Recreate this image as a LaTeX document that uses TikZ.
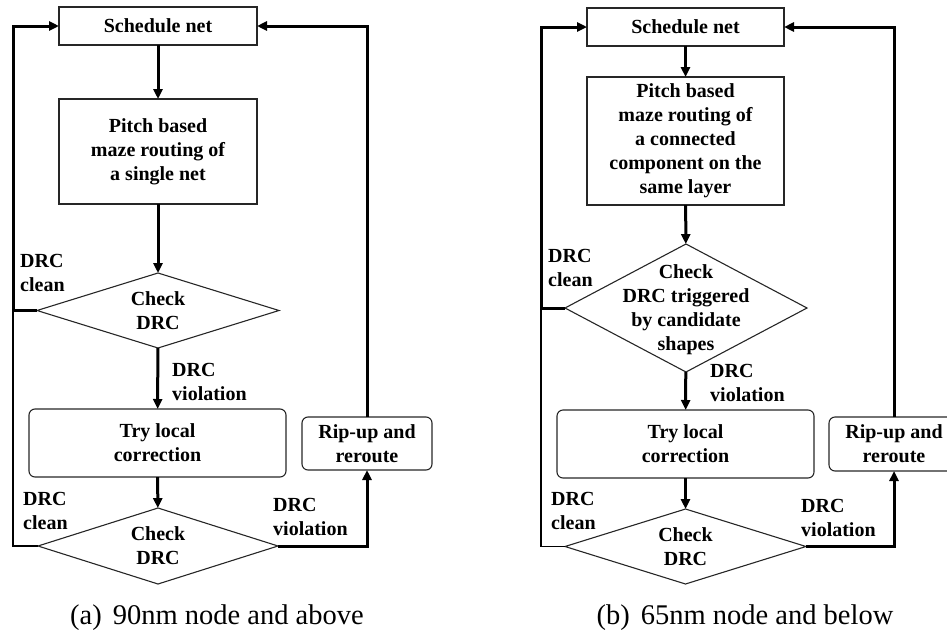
\documentclass[tikz,border=0pt]{standalone}
\usepackage{fontspec}
\setmainfont{Liberation Serif}
\usetikzlibrary{shapes.geometric,arrows.meta}
\begin{document}
\begin{tikzpicture}[x=1pt,y=-1pt,
  txt/.style={font=\fontsize{20}{24}\selectfont\bfseries, align=center, inner sep=0pt},
  box/.style={txt, draw=black!85, line width=1.1pt, rectangle, outer sep=0pt},
  rbox/.style={box, rounded corners=6pt},
  dia/.style={draw=black!85, line width=1.1pt, diamond, inner sep=0pt, outer sep=0pt},
  lab/.style={font=\fontsize{20}{24}\selectfont\bfseries, align=left, anchor=west, inner sep=0pt},
  captxt/.style={font=\fontsize{28.5}{33}\selectfont, inner sep=0pt},
  flow/.style={line width=3pt, -{Triangle[length=10pt,width=9pt]}},
  weak/.style={line width=1.3pt}]
\useasboundingbox (0,0) rectangle (947,632);

% ---------- (a) ----------
\node[box, minimum width=198pt, minimum height=38pt] (as) at (158,26) {Schedule net};
\node[box, minimum width=198pt, minimum height=105pt] (ap) at (158,151.5) {Pitch based\\maze routing of\\a single net};
\node[dia, minimum width=242pt, minimum height=75pt] (ad1) at (158,310.5) {};
\node[txt] (ad1t) at (ad1) {Check\\DRC};
\node[rbox, minimum width=257pt, minimum height=68pt] (at) at (157.5,443) {Try local\\correction};
\node[rbox, minimum width=130pt, minimum height=53pt] (ar) at (367,443.5) {Rip-up and\\reroute};
\node[dia, minimum width=240pt, minimum height=76pt] (ad2) at (158,546) {};
\node[txt] (ad2t) at (ad2) {Check\\DRC};
\coordinate (aL) at (13,0);

\draw[flow] (as) -- (ap);
\draw[flow] (ap) -- (ad1);
\draw[flow] (ad1) -- (at);
\draw[flow] (at) -- (ad2);
\draw[flow] (ad1.west) -- (ad1.west -| aL) |- (as.west);
\draw[weak] (ad2.west) -- (ad2.west -| aL) -- (ad1.west -| aL);
\draw[flow] (ad2.east) -| (ar.south);
\draw[flow] (ar.north) |- (as.east);

\node[lab] (al1) at (20,272.5) {DRC\\clean};
\node[lab] (al2) at (172,381.5) {DRC\\violation};
\node[lab] (al3) at (23,510.5) {DRC\\clean};
\node[lab] (al4) at (273,516.5) {DRC\\violation};
\node[captxt] (acap) at (217,618) {(a)\hspace{11pt}90nm node and above};

% ---------- (b) ----------
\node[box, minimum width=197pt, minimum height=38pt] (bs) at (685.5,27) {Schedule net};
\node[box, minimum width=197pt, minimum height=128pt] (bp) at (685.5,141) {Pitch based\\maze routing of\\a connected\\component on the\\same layer};
\node[dia, minimum width=242pt, minimum height=128pt] (bd1) at (686,308) {};
\node[txt] (bd1t) at (686,309.5) {Check\\DRC triggered\\by candidate\\shapes};
\node[rbox, minimum width=257pt, minimum height=68pt] (bt) at (685.5,444) {Try local\\correction};
\node[rbox, minimum width=130pt, minimum height=54pt] (br) at (894,444) {Rip-up and\\reroute};
\node[dia, minimum width=241pt, minimum height=75pt] (bd2) at (685.5,546.5) {};
\node[txt] (bd2t) at (bd2) {Check\\DRC};
\coordinate (bL) at (541,0);

\draw[flow] (bs) -- (bp);
\draw[flow] (bp) -- (bd1);
\draw[flow] (bd1) -- (bt);
\draw[flow] (bt) -- (bd2);
\draw[flow] (bd1.west) -- (bd1.west -| bL) |- (bs.west);
\draw[weak] (bd2.west) -- (bd2.west -| bL) -- (bd1.west -| bL);
\draw[flow] (bd2.east) -| (br.south);
\draw[flow] (br.north) |- (bs.east);

\node[lab] (bl1) at (548,268) {DRC\\clean};
\node[lab] (bl2) at (710,382.5) {DRC\\violation};
\node[lab] (bl3) at (551,510.5) {DRC\\clean};
\node[lab] (bl4) at (801,518) {DRC\\violation};
\node[captxt] (bcap) at (745,618) {(b)\hspace{11pt}65nm node and below};
\end{tikzpicture}
\end{document}
